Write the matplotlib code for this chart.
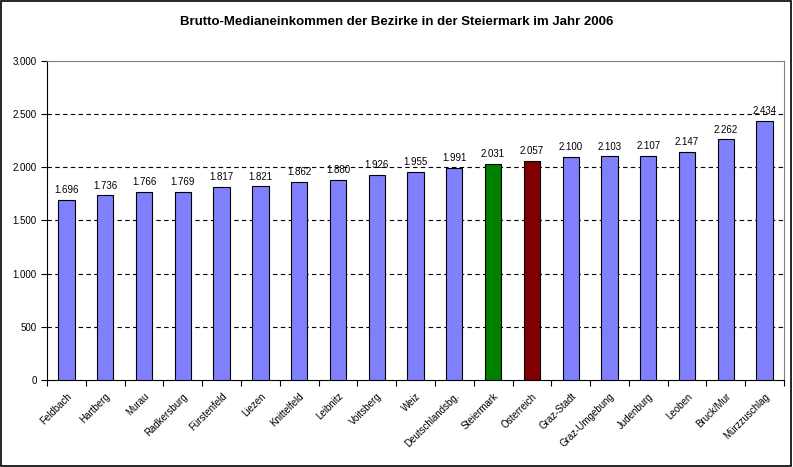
import numpy as np
import matplotlib.pyplot as plt
from matplotlib.ticker import FuncFormatter, MultipleLocator

plt.rcParams['font.family'] = ['Liberation Sans', 'DejaVu Sans']

bezirke = ['Feldbach', 'Hartberg', 'Murau', 'Radkersburg', 'Fürstenfeld', 'Liezen',
           'Knittelfeld', 'Leibnitz', 'Voitsberg', 'Weiz', 'Deutschlandsbg.',
           'Steiermark', 'Österreich', 'Graz-Stadt', 'Graz-Umgebung', 'Judenburg',
           'Leoben', 'Bruck/Mur', 'Mürzzuschlag']
einkommen = [1696, 1736, 1766, 1769, 1817, 1821, 1862, 1880, 1926, 1955, 1991,
             2031, 2057, 2100, 2103, 2107, 2147, 2262, 2434]

def dots(v):
    return f"{int(v):,}".replace(",", ".")

farben = []
for b in bezirke:
    if b == 'Steiermark':
        farben.append('#008000')
    elif b == 'Österreich':
        farben.append('#800000')
    else:
        farben.append('#8080FF')

fig = plt.figure(figsize=(7.93, 4.67), dpi=100)
# outer black frame
fig.patches.append(plt.Rectangle((0.001, 0.003), 0.996, 0.995, transform=fig.transFigure,
                                 fill=False, edgecolor='black', linewidth=1.2))
ax = fig.add_axes([0.0593, 0.1863, 0.9294, 0.6831])

x = np.arange(len(bezirke))
ax.bar(x, einkommen, width=0.42, color=farben, edgecolor='black', linewidth=0.8, zorder=3)

for xi, v in zip(x, einkommen):
    ax.text(xi, v + 45, dots(v), ha='center', va='bottom', fontsize=7, zorder=4)

ax.set_xlim(-0.5, len(bezirke) - 0.5)
ax.set_ylim(0, 3000)
ax.yaxis.set_major_locator(MultipleLocator(500))
ax.yaxis.set_major_formatter(FuncFormatter(lambda v, p: dots(v)))
for yv in range(500, 3000, 500):
    ax.axhline(yv, color='black', linestyle=(0, (4, 3)), linewidth=0.8, zorder=1)

ax.set_xticks(x)
ax.set_xticklabels(bezirke, rotation=45, ha='right', rotation_mode='anchor', fontsize=7)
ax.set_xticks(np.arange(-0.5, len(bezirke)), minor=True)
ax.tick_params(axis='x', which='major', length=0, pad=8)
ax.tick_params(axis='x', which='minor', length=4, direction='out', width=0.8)
ax.tick_params(axis='y', length=4, direction='out', width=0.8, labelsize=7)

ax.spines['left'].set_color('black')
ax.spines['bottom'].set_color('black')
ax.spines['top'].set_color('#808080')
ax.spines['right'].set_color('#808080')

fig.text(0.5, 0.953, 'Brutto-Medianeinkommen der Bezirke in der Steiermark im Jahr 2006',
         ha='center', va='center', fontsize=9.5, fontweight='bold')

fig.savefig('out.png', dpi=100)
